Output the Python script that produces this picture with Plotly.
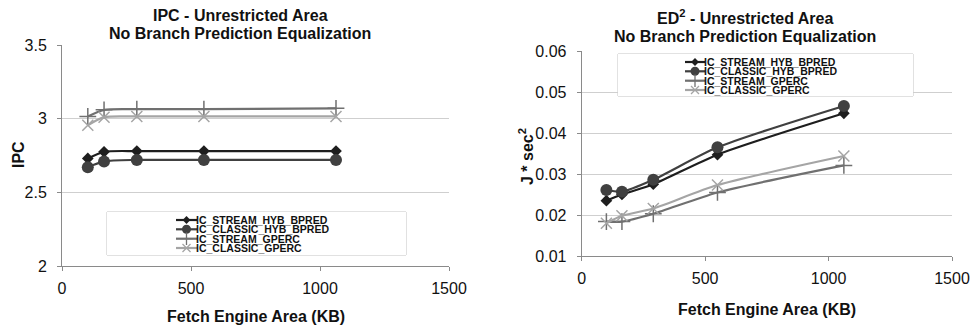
import plotly.graph_objects as go

W, H = 971, 329

area_kb = [100, 163, 290, 550, 1062]

series_names = ["IC_STREAM_HYB_BPRED", "IC_CLASSIC_HYB_BPRED", "IC_STREAM_GPERC", "IC_CLASSIC_GPERC"]

ipc_stream_hyb = [2.73, 2.775, 2.78, 2.78, 2.78]
ipc_classic_hyb = [2.67, 2.71, 2.72, 2.72, 2.72]
ipc_stream_gperc = [3.015, 3.06, 3.065, 3.065, 3.07]
ipc_classic_gperc = [2.955, 3.01, 3.015, 3.015, 3.015]

ed2_stream_hyb = [0.0235, 0.025, 0.0275, 0.0347, 0.0448]
ed2_classic_hyb = [0.0261, 0.0257, 0.0286, 0.0365, 0.0466]
ed2_stream_gperc = [0.0184, 0.0184, 0.0203, 0.0255, 0.0321]
ed2_classic_gperc = [0.018, 0.0198, 0.0216, 0.0273, 0.0344]

x_ticks = [0, 500, 1000, 1500]
ipc_ticks = [2, 2.5, 3, 3.5]
ed2_ticks = [0.01, 0.02, 0.03, 0.04, 0.05, 0.06]

FONT = "Arial, Liberation Sans, sans-serif"

styles = [
    dict(color="#1e1e1e", symbol="diamond", size=9, lw=2.2),
    dict(color="#404040", symbol="circle", size=12, lw=2.2),
    dict(color="#707070", symbol="cross-thin-open", size=12, lw=2.2),
    dict(color="#a5a5a5", symbol="x-thin-open", size=11, lw=2.2),
]

fig = go.Figure()

def px_x(a, b):
    return [a / W, b / W]

def px_y(top, bottom):
    return [1 - bottom / H, 1 - top / H]

def add_series(ys, xa, ya):
    for name, y, st in zip(series_names, ys, styles):
        mk = dict(symbol=st["symbol"], size=st["size"], color=st["color"])
        if "open" in st["symbol"]:
            mk["line"] = dict(color=st["color"], width=1.5)
        fig.add_trace(go.Scatter(
            x=area_kb, y=y, mode="lines+markers", name=name,
            line=dict(color=st["color"], width=st["lw"], shape="spline", smoothing=0.7),
            marker=mk, xaxis=xa, yaxis=ya, showlegend=False))

add_series([ipc_stream_hyb, ipc_classic_hyb, ipc_stream_gperc, ipc_classic_gperc], "x", "y")
add_series([ed2_stream_hyb, ed2_classic_hyb, ed2_stream_gperc, ed2_classic_gperc], "x2", "y2")

# manual legends on hidden overlay axes
def add_legend(xa, ya, sample_x0, sample_x1, rows):
    for name, st, ry in zip(series_names, styles, rows):
        mk = dict(symbol=st["symbol"], size=st["size"] - 3, color=st["color"])
        if "open" in st["symbol"]:
            mk["line"] = dict(color=st["color"], width=1.3)
        fig.add_trace(go.Scatter(
            x=[sample_x0, (sample_x0 + sample_x1) / 2, sample_x1], y=[ry, ry, ry],
            mode="lines", line=dict(color=st["color"], width=2.2),
            xaxis=xa, yaxis=ya, showlegend=False, hoverinfo="skip"))
        fig.add_trace(go.Scatter(
            x=[(sample_x0 + sample_x1) / 2], y=[ry], mode="markers", marker=mk,
            xaxis=xa, yaxis=ya, showlegend=False, hoverinfo="skip"))
        fig.add_annotation(x=sample_x1, y=ry, xref=xa, yref=ya, text="<b>" + name + "</b>",
                           showarrow=False, xanchor="left", yanchor="middle",
                           font=dict(family=FONT, size=10.5, color="#111"),
                           xshift=-2, borderpad=0)

leg_rows = [8, 17.3, 26.7, 36]
add_legend("x3", "y3", 69, 90, leg_rows)
add_legend("x4", "y4", 67, 87, leg_rows)

axis_common = dict(showline=True, linecolor="#8a8a8a", linewidth=1, ticks="outside",
                   ticklen=4, tickcolor="#8a8a8a", automargin=False,
                   tickfont=dict(family=FONT, size=16, color="#111"), zeroline=False)

fig.update_layout(
    width=W, height=H, margin=dict(l=0, r=0, t=0, b=0),
    paper_bgcolor="white", plot_bgcolor="white",
    font=dict(family=FONT, color="#111"),
    xaxis=dict(domain=px_x(62, 449), range=[0, 1500], tickvals=x_ticks, showgrid=False,
               anchor="y", ticklabelstandoff=4, **axis_common),
    yaxis=dict(domain=px_y(45, 266), range=[2, 3.5], tickvals=ipc_ticks, ticktext=["2", "2.5", "3", "3.5"],
               showgrid=True, gridcolor="#cfcfcf", anchor="x", ticklabelstandoff=7, **axis_common),
    xaxis2=dict(domain=px_x(581.7, 952), range=[0, 1500], tickvals=x_ticks, showgrid=False,
                anchor="y2", ticklabelstandoff=4, **axis_common),
    yaxis2=dict(domain=px_y(51, 256), range=[0.01, 0.06], tickvals=ed2_ticks, tickformat=".2f",
                showgrid=True, gridcolor="#cfcfcf", anchor="x2", ticklabelstandoff=7, **axis_common),
    xaxis3=dict(domain=px_x(107, 406), range=[0, 299], visible=False, fixedrange=True),
    yaxis3=dict(domain=px_y(212, 255), range=[43, 0], visible=False, fixedrange=True, anchor="x3"),
    xaxis4=dict(domain=px_x(618, 913), range=[0, 295], visible=False, fixedrange=True),
    yaxis4=dict(domain=px_y(54, 96), range=[42, 0], visible=False, fixedrange=True, anchor="x4"),
)

# legend boxes
for (x0, x1, y0, y1) in [(107, 406, 212, 255), (618, 913, 54, 96)]:
    fig.add_shape(type="rect", xref="paper", yref="paper",
                  x0=x0 / W, x1=x1 / W, y0=1 - y1 / H, y1=1 - y0 / H,
                  line=dict(color="#c4c4c4", width=1), fillcolor="rgba(255,255,255,0)", layer="below")

def ann(text, x, y, size=16, angle=0):
    fig.add_annotation(x=x / W, y=1 - y / H, xref="paper", yref="paper", text=text,
                       showarrow=False, xanchor="center", yanchor="middle", textangle=angle,
                       font=dict(family=FONT, size=size, color="#111"))

ann("<b>IPC - Unrestricted Area</b>", 240, 15)
ann("<b>No Branch Prediction Equalization</b>", 240, 34)
ann("<b>ED<sup>2</sup> - Unrestricted Area</b>", 745, 17)
ann("<b>No Branch Prediction Equalization</b>", 745, 37)
ann("<b>Fetch Engine Area (KB)</b>", 256, 316)
ann("<b>Fetch Engine Area (KB)</b>", 767, 309)
ann("<b>IPC</b>", 18, 155)
ann("<b>J * sec<sup>2</sup></b>", 526, 157, angle=-90)
fig.layout.annotations[-2].textangle = -90

fig.write_html("out.html")
